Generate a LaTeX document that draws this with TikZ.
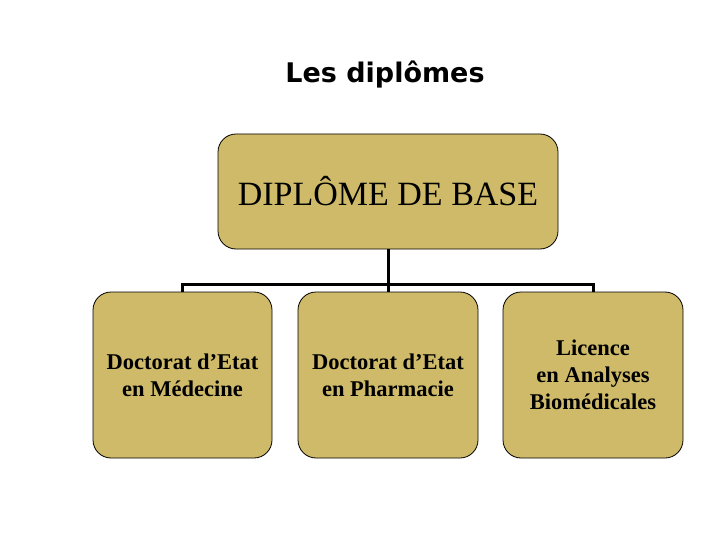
\documentclass[tikz,border=0pt]{standalone}
\usepackage{fontspec}
\setmainfont{Liberation Serif}
\newfontfamily\titlefont{DejaVu Sans}

\definecolor{diplTan}{RGB}{206,186,104}
\tikzset{
  dipl box/.style={draw, line width=0.8pt, fill=diplTan, rounded corners=18pt, inner sep=0pt, align=center},
  dipl link/.style={line width=3pt, line join=miter}
}

\begin{document}
\begin{tikzpicture}[x=1pt,y=-1pt]
\useasboundingbox (0,0) rectangle (720,540);
\node[font=\titlefont\bfseries\fontsize{27}{30}\selectfont] (title) at (385,75) {Les diplômes};
\node[dipl box, minimum width=340pt, minimum height=115pt, font=\fontsize{34}{40}\selectfont] (base) at (388,191.5) {DIPLÔME DE BASE};
\node[dipl box, minimum width=179pt, minimum height=166pt, font=\bfseries\fontsize{22.5}{27}\selectfont] (med) at (182.5,375) {Doctorat d’Etat\\en Médecine};
\node[dipl box, minimum width=180pt, minimum height=166pt, font=\bfseries\fontsize{22.5}{27}\selectfont] (pha) at (388,375) {Doctorat d’Etat\\en Pharmacie};
\node[dipl box, minimum width=180pt, minimum height=166pt, font=\bfseries\fontsize{22.5}{27}\selectfont] (bio) at (593,375) {Licence\\en Analyses\\Biomédicales};
\coordinate (bus) at (388,284);
\draw[dipl link] (base.south) -- (pha.north);
\draw[dipl link] (med.north) -- (med.north |- bus) -- (bio.north |- bus) -- (bio.north);
\end{tikzpicture}
\end{document}
